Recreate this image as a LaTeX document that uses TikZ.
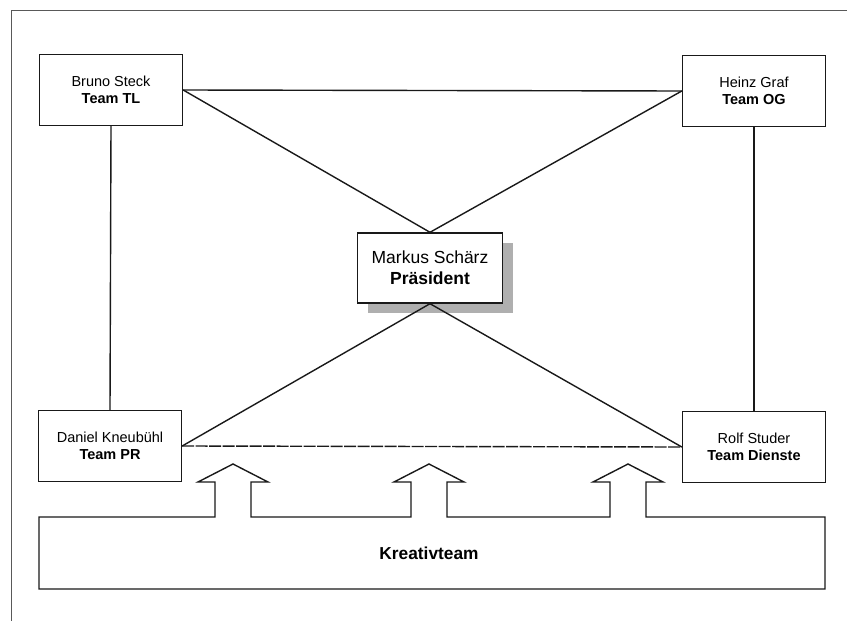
\documentclass[tikz,border=0pt]{standalone}
\usepackage{fontspec}
\setmainfont{Liberation Sans}
\usepackage{tikz}
\usetikzlibrary{positioning, shadows}
\definecolor{orgline}{RGB}{25, 25, 25}
\definecolor{orgshadow}{RGB}{175, 175, 175}
\tikzset{
    teambox/.style={rectangle, draw=orgline, line width=1.4pt, fill=white, minimum width=143pt, minimum height=71pt, align=center, font=\fontsize{14.5}{17}\selectfont},
    chefbox/.style={teambox, minimum width=145pt, minimum height=70pt, font=\fontsize{17.5}{21}\selectfont,
        drop shadow={shadow xshift=10pt, shadow yshift=-10pt, fill=orgshadow, opacity=1}},
    orgedge/.style={draw=orgline, line width=1.4pt}
}

\begin{document}
\begin{tikzpicture}[x=1pt, y=-1pt]
    \useasboundingbox (0,0) rectangle (847,621);
    % outer frame (only top and left edge visible)
    \draw[line width=0.8pt, gray!70!black] (847,10) -- (11,10) -- (11,621);

    \node[teambox] (bruno) at (111,90) {Bruno Steck\\\textbf{Team TL}};
    \node[teambox] (heinz) at (754,91) {Heinz Graf\\\textbf{Team OG}};
    \node[chefbox] (markus) at (430,268) {Markus Schärz\\\textbf{Präsident}};
    \node[teambox] (daniel) at (110,446) {Daniel Kneubühl\\\textbf{Team PR}};
    \node[teambox] (rolf) at (754,447) {Rolf Studer\\\textbf{Team Dienste}};

    \draw[orgedge] (bruno.east) -- (heinz.west);
    \draw[orgedge] (bruno.east) -- (markus.north);
    \draw[orgedge] (heinz.west) -- (markus.north);
    \draw[orgedge] (daniel.east) -- (markus.south);
    \draw[orgedge] (rolf.west) -- (markus.south);
    \draw[orgedge] (bruno.south) -- (daniel.north);
    \draw[orgedge] (heinz.south) -- (rolf.north);
    \draw[orgedge, dash pattern=on 12pt off 1.5pt] (daniel.east) -- (rolf.west);

    % Kreativteam with three block arrows
    \draw[orgedge, line join=miter]
        (39,517) -- (215,517) -- (215,482) -- (198,482) -- (233,464) -- (268,482) -- (251,482) -- (251,517)
        -- (411,517) -- (411,482) -- (394,482) -- (429,464) -- (464,482) -- (447,482) -- (447,517)
        -- (610,517) -- (610,482) -- (593,482) -- (628,464) -- (663,482) -- (646,482) -- (646,517)
        -- (825,517) -- (825,589) -- (39,589) -- cycle;
    \node[font=\fontsize{17.3}{20}\selectfont\bfseries] (kreativ) at (429,553) {Kreativteam};
\end{tikzpicture}
\end{document}
